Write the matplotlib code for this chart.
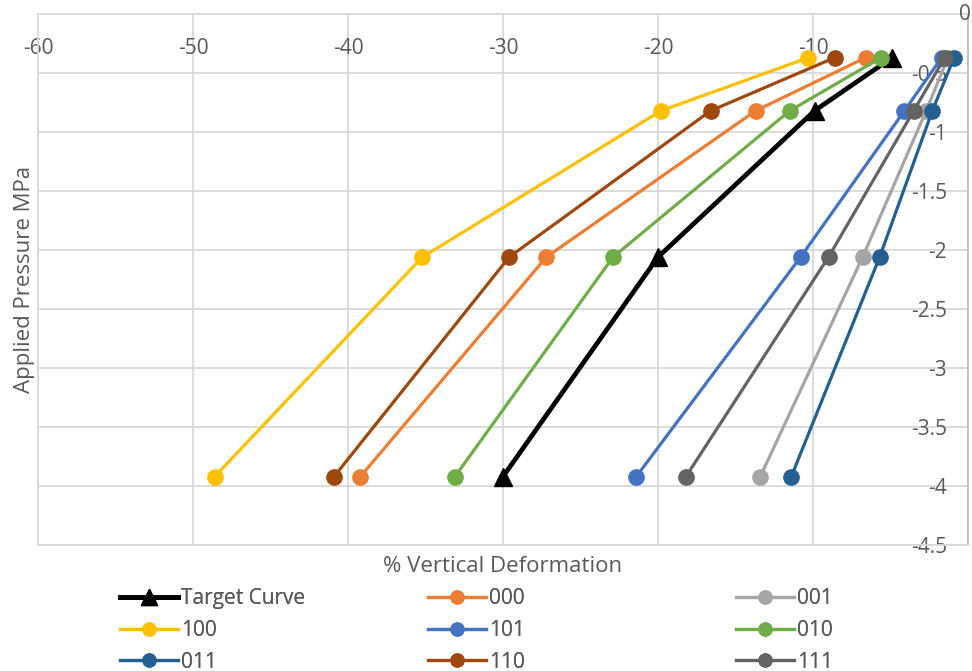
import matplotlib.pyplot as plt

plt.rcParams['font.family'] = ['Open Sans', 'DejaVu Sans']

# applied pressure levels (MPa, negative = compression)
pressure = [-0.37, -0.82, -2.06, -3.92]

names = ["Target Curve", "000", "001", "100", "101", "010", "011", "110", "111"]
deform = {
    "Target Curve": [-4.9, -9.9, -20.0, -30.0],
    "000": [-6.6, -13.7, -27.2, -39.2],
    "001": [-1.3, -2.7, -6.8, -13.4],
    "100": [-10.3, -19.8, -35.2, -48.6],
    "101": [-1.7, -4.1, -10.8, -21.4],
    "010": [-5.6, -11.5, -22.9, -33.1],
    "011": [-0.9, -2.3, -5.7, -11.4],
    "110": [-8.6, -16.6, -29.6, -40.9],
    "111": [-1.5, -3.5, -9.0, -18.2],
}
colors = {
    "Target Curve": "#000000",
    "000": "#ED7D31",
    "001": "#A5A5A5",
    "100": "#FFC000",
    "101": "#4472C4",
    "010": "#70AD47",
    "011": "#255E91",
    "110": "#9E480E",
    "111": "#636363",
}

xticks = [-60, -50, -40, -30, -20, -10, 0]
yticks = [0, -0.5, -1, -1.5, -2, -2.5, -3, -3.5, -4, -4.5]

fig = plt.figure(figsize=(9.72, 6.71), dpi=100)
ax = fig.add_axes([38 / 972, 1 - 545 / 671, 930 / 972, 531 / 671])

handles = {}
for n in names:
    if n == "Target Curve":
        h, = ax.plot(deform[n], pressure, color=colors[n], lw=3.4, marker='^',
                     ms=13, clip_on=False, zorder=3)
    else:
        h, = ax.plot(deform[n], pressure, color=colors[n], lw=2.3, marker='o',
                     ms=11, clip_on=False, zorder=3)
    handles[n] = h

ax.set_xlim(-60, 0)
ax.set_ylim(-4.5, 0)
ax.set_xticks(xticks)
ax.set_yticks(yticks)
ax.grid(True, color='#d9d9d9', lw=1.3)
ax.set_axisbelow(True)
for s in ax.spines.values():
    s.set_color('#d9d9d9')
    s.set_linewidth(1.3)
ax.spines['right'].set_color('#bfbfbf')

# x labels sit just under the top edge, y labels just left of the right edge
ax.xaxis.tick_top()
ax.tick_params(axis='x', length=0, labelsize=15, labelcolor='#595959', pad=-17)
for lbl in ax.get_xticklabels():
    lbl.set_va('top')
ax.set_xticklabels(["-60", "-50", "-40", "-30", "-20", "-10", ""])

ax.yaxis.tick_right()
ax.tick_params(axis='y', length=0, labelsize=15, labelcolor='#595959', pad=-15)
ax.set_yticklabels([""] + [f"{v:g}" for v in yticks[1:]])
for lbl in ax.get_yticklabels():
    lbl.set_ha('right')
fig.text(971 / 972, 1 - 14 / 671, "0", ha='right', va='center', fontsize=15,
         color='#595959')

ax.yaxis.set_label_position('left')
ax.set_ylabel("Applied Pressure MPa", fontsize=16, color='#595959', labelpad=2)
ax.text(0.5, -0.041, "% Vertical Deformation", transform=ax.transAxes,
        ha='center', va='center', fontsize=16, color='#595959')

# three legend columns, filled row by row
columns = [["Target Curve", "100", "011"],
           ["000", "101", "110"],
           ["001", "010", "111"]]
col_x = [120, 428, 736]
for xs, col in zip(col_x, columns):
    leg = fig.legend([handles[n] for n in col], col, loc='upper left',
                     bbox_to_anchor=(xs / 972, 1 - 588 / 671), ncol=1,
                     frameon=False, fontsize=15, labelcolor='#595959',
                     handlelength=2.8, handletextpad=0.15, labelspacing=0.52,
                     markerscale=0.85, borderaxespad=0, borderpad=0)
    fig.add_artist(leg)

fig.savefig("out.png", dpi=100)
